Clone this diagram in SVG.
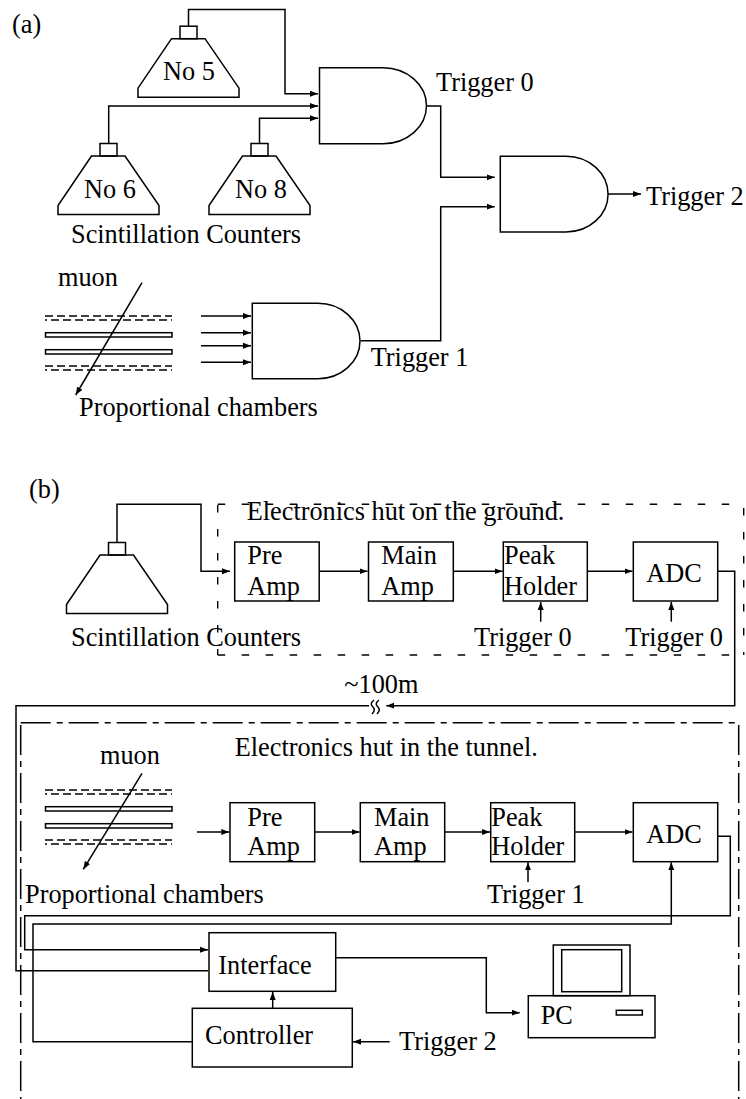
<svg xmlns="http://www.w3.org/2000/svg" width="746" height="1099" viewBox="0 0 746 1099">
<style>
text{font-family:"Liberation Serif","Times New Roman",serif;font-size:26.3px;fill:#000}
.s{fill:none;stroke:#000;stroke-width:1.5}
.w{fill:none;stroke:#000;stroke-width:1.5;marker-end:url(#a)}
.n{fill:none;stroke:#000;stroke-width:1.5}
.d{fill:none;stroke:#000;stroke-width:1.4;stroke-dasharray:7.5 16.5}
.dd{fill:none;stroke:#000;stroke-width:1.5;stroke-dasharray:30 6 6 6}
.c{fill:none;stroke:#000;stroke-width:1.3;stroke-dasharray:8 4}
.c2{fill:none;stroke:#000;stroke-width:1.3;stroke-dasharray:8 4;stroke-dashoffset:6}
</style>
<defs>
<marker id="a" markerUnits="userSpaceOnUse" markerWidth="9" markerHeight="7" viewBox="0 0 9 7" refX="8" refY="3.5" orient="auto"><path d="M0,0.5 L8,3.5 L0,6.5 Z" fill="#000"/></marker>
<g id="pmt"><path class="s" d="M-50.5,58.6 V49.5 L-17,0 H16.5 L50.5,49.5 V58.6 Z"/><rect class="s" x="-8.5" y="-12.5" width="17" height="12.5"/></g>
<g id="chamber">
<path class="c" d="M45,0 H172"/><path class="c2" d="M45,4 H172"/>
<rect class="s" x="45.5" y="16.7" width="126.5" height="4.3"/>
<rect class="s" x="45.5" y="33.7" width="126.5" height="4.3"/>
<path class="c" d="M45,50 H172"/><path class="c2" d="M45,54 H172"/>
</g>
</defs>
<g id="panel-a-label"><text x="12" y="33">(a)</text></g>
<g id="no5"><use href="#pmt" x="188.5" y="38.7"/><text x="163" y="79.5">No 5</text></g>
<g id="no6"><use href="#pmt" x="108.5" y="156"/><text x="84" y="197.7">No 6</text></g>
<g id="no8"><use href="#pmt" x="259.5" y="156"/><text x="235" y="197.7">No 8</text></g>
<g id="scint-a-label"><text x="71" y="243">Scintillation Counters</text></g>
<g id="gate0"><path class="n" d="M319.5,67.7 H383 A43.5,38 0 0 1 383,143.7 H319.5 Z"/><text x="436" y="90.7">Trigger 0</text></g>
<g id="gate2"><path class="n" d="M500.3,156.3 H566 A42,37.8 0 0 1 566,232 H500.3 Z"/><text x="646" y="205">Trigger 2</text></g>
<g id="gate1"><path class="n" d="M252.3,303.3 H318 A42,37.7 0 0 1 318,378.7 H252.3 Z"/><text x="370.7" y="365.7">Trigger 1</text></g>
<g id="chambers-a"><use href="#chamber" y="316"/><text x="58" y="285.7">muon</text><text x="79" y="416">Proportional chambers</text></g>
<g id="panel-b-label"><text x="29" y="498">(b)</text></g>
<g id="hut-ground">
<path class="d" d="M217.7,504.3 H743.7"/><path class="d" d="M217.7,505 V655"/><path class="d" d="M217.7,655 H743.7"/><path class="d" d="M743.7,508 V655"/>
<text x="246.7" y="520">Electronics hut on the ground.</text>
</g>
<g id="scint-b"><use href="#pmt" x="117" y="555"/><text x="71" y="646">Scintillation Counters</text></g>
<g id="preamp-b"><rect class="n" x="234.7" y="542" width="84.5" height="59"/><text x="247.3" y="564.3">Pre</text><text x="247.3" y="595">Amp</text></g>
<g id="mainamp-b"><rect class="n" x="368.5" y="542" width="84.8" height="59"/><text x="381.3" y="564.3">Main</text><text x="381.3" y="595">Amp</text></g>
<g id="peak-b"><rect class="n" x="503.3" y="542" width="84" height="59"/><text x="504" y="564.3">Peak</text><text x="504" y="595">Holder</text></g>
<g id="adc-b"><rect class="n" x="633.3" y="542" width="84.4" height="59"/><text x="646.3" y="581.7">ADC</text></g>
<g id="labels-b"><text x="474" y="645.7">Trigger 0</text><text x="625.3" y="645.7">Trigger 0</text><text x="344.3" y="692.7">~100m</text></g>
<g id="hut-tunnel">
<path class="dd" d="M20.7,722.7 H736"/><path class="dd" d="M20.7,725 V1099"/><path class="dd" d="M738.7,725 V1099"/>
<text x="234.7" y="756">Electronics hut in the tunnel.</text>
</g>
<g id="chambers-b"><use href="#chamber" y="790"/><text x="100" y="764">muon</text><text x="25" y="902.7">Proportional chambers</text></g>
<g id="preamp-t"><rect class="n" x="230" y="802.7" width="84.7" height="59"/><text x="247.3" y="825.7">Pre</text><text x="247.3" y="855">Amp</text></g>
<g id="mainamp-t"><rect class="n" x="360.3" y="802.7" width="84.4" height="59"/><text x="374" y="825.7">Main</text><text x="374" y="855">Amp</text></g>
<g id="peak-t"><rect class="n" x="490.7" y="802.7" width="84" height="59"/><text x="491.3" y="825.7">Peak</text><text x="491.3" y="855">Holder</text></g>
<g id="adc-t"><rect class="n" x="633.3" y="802.7" width="84.4" height="59"/><text x="646.3" y="842.7">ADC</text></g>
<g id="trigger1-label"><text x="487" y="902.7">Trigger 1</text></g>
<g id="interface"><rect class="n" x="209" y="932.7" width="126.7" height="58.6"/><text x="218.3" y="974">Interface</text></g>
<g id="controller"><rect class="n" x="192.3" y="1008.3" width="160" height="58.7"/><text x="205" y="1044">Controller</text></g>
<g id="trigger2-label"><text x="399" y="1050">Trigger 2</text></g>
<g id="pc">
<rect class="n" x="528.3" y="995.7" width="126.7" height="42"/>
<rect class="n" x="553.3" y="945" width="76.7" height="50.7"/>
<rect class="n" x="561.7" y="949.7" width="60" height="42"/>
<rect class="n" x="616.3" y="1010.3" width="26" height="4.7"/>
<text x="540.7" y="1024">PC</text>
</g>
<g id="connectors">
<path class="w" d="M188.5,26 V9.5 H285 V93.7 H318"/>
<path class="w" d="M108.7,143.5 V106 H318"/>
<path class="w" d="M259.5,143.5 V118.3 H318"/>
<path class="w" d="M426.5,106 H440.7 V177.3 H494.7"/>
<path class="w" d="M360.7,340.7 H440.7 V206.7 H494.7"/>
<path class="w" d="M608,194 H641"/>
<path class="w" d="M201,316 H251"/>
<path class="w" d="M201,332.7 H251"/>
<path class="w" d="M201,345.7 H251"/>
<path class="w" d="M201,362.3 H251"/>
<path class="w" d="M142,282.7 L75.7,395"/>
<path class="w" d="M117,542.5 V504.3 H201 V571.3 H230"/>
<path class="w" d="M319.2,571.3 H367.5"/>
<path class="w" d="M453.3,571.3 H502.5"/>
<path class="w" d="M587.3,571.3 H632.5"/>
<path class="w" d="M540.7,621.7 V602"/>
<path class="w" d="M671.3,621.7 V602"/>
<path class="w" d="M717.7,571.3 H734.7 V705.7 H386.3"/>
<path class="s" d="M369,705.7 H16 V970.7 H208"/>
<path class="s" d="M374,700 C370,703 371,705 373,707 C375,709 375,711 372,714 M379,700 C375,703 376,705 378,707 C380,709 380,711 377,714"/>
<path class="w" d="M142,773.3 L83.3,869.3"/>
<path class="w" d="M197,832 H229.3"/>
<path class="w" d="M314.7,832 H359.5"/>
<path class="w" d="M444.7,832 H490"/>
<path class="w" d="M574.7,832 H632.5"/>
<path class="w" d="M528,882 V862.3"/>
<path class="w" d="M717.7,836.3 H730.3 V915.7 H24.7 V949.7 H208"/>
<path class="w" d="M192.3,1041.7 H33 V924 H671.3 V862.3"/>
<path class="w" d="M272.7,1008.3 V992"/>
<path class="w" d="M389.7,1041.7 H353"/>
<path class="w" d="M335.7,957.7 H486.3 V1012.7 H519.7"/>
</g>
</svg>
